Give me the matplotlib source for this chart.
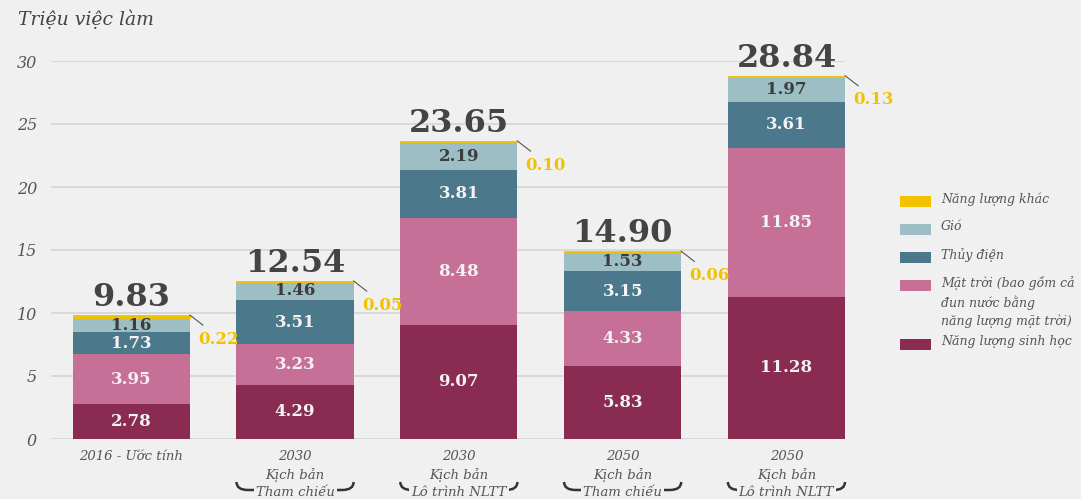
import matplotlib.pyplot as plt
from matplotlib.patches import Rectangle, PathPatch
from matplotlib.path import Path
from matplotlib.transforms import blended_transform_factory

# Việc làm trong năng lượng tái tạo (triệu việc làm)
cats_top = ['2016 - Ước tính', '2030', '2030', '2050', '2050']
cats_mid = ['', 'Kịch bản', 'Kịch bản', 'Kịch bản', 'Kịch bản']
cats_low = ['', 'Tham chiếu', 'Lô trình NLTT', 'Tham chiếu', 'Lô trình NLTT']

sinh_hoc = [2.78, 4.29, 9.07, 5.83, 11.28]
mat_troi = [3.95, 3.23, 8.48, 4.33, 11.85]
thuy_dien = [1.73, 3.51, 3.81, 3.15, 3.61]
gio = [1.16, 1.46, 2.19, 1.53, 1.97]
khac = [0.22, 0.05, 0.10, 0.06, 0.13]
tong = [9.83, 12.54, 23.65, 14.90, 28.84]

series = [
    ('Năng lượng sinh học', sinh_hoc, '#8a2c51', '#f3f3f3'),
    ('Mặt trời (bao gồm cả\nđun nước bằng\nnăng lượng mặt trời)', mat_troi, '#c77097', '#f3f3f3'),
    ('Thủy điện', thuy_dien, '#4c788c', '#f3f3f3'),
    ('Gió', gio, '#9dbec4', '#3c3c3c'),
    ('Năng lượng khác', khac, '#f2c200', None),
]

bg = '#f0f0f0'
plt.rcParams['font.family'] = 'DejaVu Serif'

W, H = 1081, 499
fig = plt.figure(figsize=(W / 100, H / 100), dpi=100, facecolor=bg)
ax = fig.add_axes([51 / W, 1 - 439 / H, (845 - 51) / W, (439 - 61) / H])
ax.set_facecolor(bg)

x = list(range(len(tong)))
width = 0.715
bottom = [0.0] * len(x)
for name, vals, col, tcol in series:
    ax.bar(x, vals, width, bottom=bottom, color=col, zorder=3,
           edgecolor=col if tcol is None else 'none', linewidth=0.6)
    if tcol is not None:
        for i, v in enumerate(vals):
            ax.text(i, bottom[i] + v / 2, f'{v:.2f}', ha='center', va='center',
                    fontsize=12, fontweight='bold', color=tcol, zorder=4)
    bottom = [b + v for b, v in zip(bottom, vals)]

# totals above bars, small "other" values off to the right with a leader line
for i, t in enumerate(tong):
    top = bottom[i]
    ax.annotate(f'{t:.2f}', xy=(i, top), xytext=(0, 6.5), textcoords='offset points',
                ha='center', va='baseline', fontsize=23, fontweight='bold',
                color='#444444', zorder=5, annotation_clip=False)
    right = i + width / 2
    ax.plot([right, right + 0.08], [top, top - 0.8], color='#555555', lw=0.8,
            zorder=4, clip_on=False)
    ax.annotate(f'{khac[i]:.2f}', xy=(right, top), xytext=(6, -17.5),
                textcoords='offset points', ha='left', va='center', fontsize=12,
                fontweight='bold', color='#f2c200', annotation_clip=False)

ax.set_xlim(-0.49, len(x) - 1 + width / 2)
ax.set_ylim(0, 30)
ax.set_yticks(range(0, 31, 5))
ax.set_yticklabels([str(v) for v in range(0, 31, 5)], fontsize=11.5, style='italic',
                   color='#555555')
ax.tick_params(axis='y', length=0, pad=10)
ax.set_xticks([])
ax.grid(axis='y', color='#d9d9d9', lw=1.4, zorder=0)
for s in ax.spines.values():
    s.set_visible(False)

fig.text(18 / W, 1 - 19 / H, 'Triệu việc làm', fontsize=13.5, style='italic',
         color='#444444', va='center', ha='left')

# category labels and brackets below the axis
tr = blended_transform_factory(ax.transData, fig.transFigure)
for i in x:
    ax.text(i, 1 - 457 / H, cats_top[i], transform=tr, ha='center', va='center',
            fontsize=9.5, style='italic', color='#555555')
    if cats_mid[i]:
        ax.text(i, 1 - 475 / H, cats_mid[i], transform=tr, ha='center', va='center',
                fontsize=9.5, style='italic', color='#555555')
        xl, xr = i - width / 2, i + width / 2
        yt, yl = 1 - 482 / H, 1 - 490 / H
        d = 0.07
        verts = [(xl, yt), (xl, yl), (xl + d, yl), (xr - d, yl), (xr, yl), (xr, yt)]
        codes = [Path.MOVETO, Path.CURVE3, Path.CURVE3, Path.LINETO, Path.CURVE3, Path.CURVE3]
        ax.add_patch(PathPatch(Path(verts, codes), transform=tr, fill=False,
                               edgecolor='#333333', lw=1.8, clip_on=False))
        ax.text(i, 1 - 492 / H, cats_low[i], transform=tr, ha='center', va='center',
                fontsize=9.5, style='italic', color='#555555', zorder=6,
                bbox=dict(facecolor=bg, edgecolor='none', pad=1.5))

# legend drawn by hand, top to bottom
leg_rows = [201, 229, 257, 285, 344]
for (name, vals, col, tcol), yc in zip(series[::-1], leg_rows):
    fig.add_artist(Rectangle((900 / W, 1 - (yc + 5.5) / H), 31 / W, 11 / H,
                             transform=fig.transFigure, facecolor=col, edgecolor='none'))
    fig.text(941 / W, 1 - (yc - 8.5) / H, name, fontsize=9, style='italic',
             color='#555555', ha='left', va='top', linespacing=1.45)

fig.savefig('out.png', dpi=100, facecolor=bg)
